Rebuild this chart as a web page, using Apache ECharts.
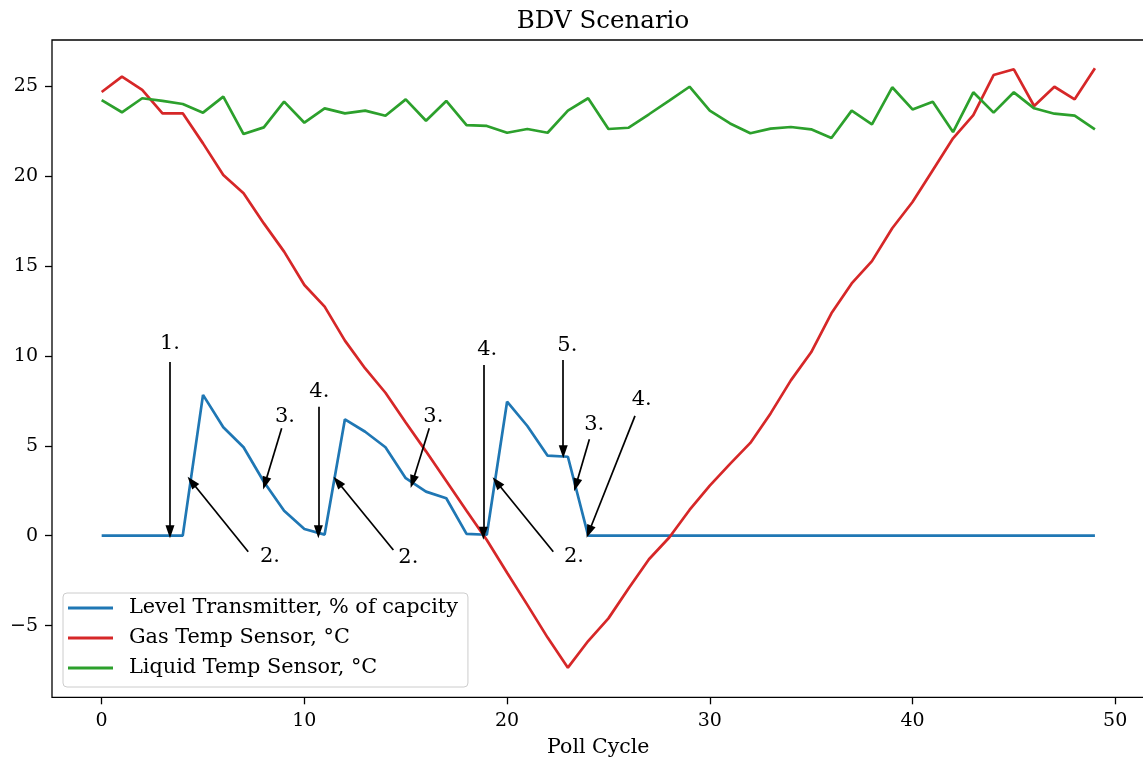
<!DOCTYPE html>
<html>
<head>
<meta charset="utf-8">
<script src="https://cdn.jsdelivr.net/npm/echarts@6/dist/echarts.min.js"></script>
<style>
  html, body { margin: 0; padding: 0; background: #fff; }
  #chart { width: 1143px; height: 760px; }
</style>
</head>
<body>
<div id="chart"></div>
<script>
// poll cycles
var pollCycle = [0,1,2,3,4,5,6,7,8,9,10,11,12,13,14,15,16,17,18,19,20,21,22,23,24,
  25,26,27,28,29,30,31,32,33,34,35,36,37,38,39,40,41,42,43,44,45,46,47,48,49];
// level transmitter, % of capacity
var levelValues = [0,0,0,0,0,7.83,6.03,4.92,3.0,1.39,0.37,0.06,6.47,5.78,4.92,3.2,2.45,2.08,0.1,0.05,
  7.45,6.1,4.45,4.39,0,0,0,0,0,0,0,0,0,0,0,0,0,0,0,0,0,0,0,0,0,0,0,0,0,0];
// gas temp
var gasValues = [24.68,25.53,24.79,23.49,23.49,21.82,20.06,19.04,17.37,15.8,
  13.94,12.74,10.85,9.3,7.95,6.3,4.69,3.04,1.39,-0.24,
  -2.06,-3.85,-5.67,-7.34,-5.86,-4.6,-2.93,-1.31,-0.1,1.43,
  2.78,3.99,5.16,6.8,8.64,10.2,12.37,14.03,15.27,17.1,
  18.56,20.33,22.1,23.39,25.62,25.94,23.9,24.97,24.27,26.0];
// liquid temp
var liquidValues = [24.23,23.55,24.33,24.18,24.01,23.53,24.42,22.34,22.71,24.14,
  22.97,23.77,23.49,23.64,23.36,24.27,23.08,24.18,22.84,22.79,
  22.41,22.62,22.41,23.64,24.33,22.62,22.69,23.44,24.2,24.97,
  23.64,22.93,22.38,22.64,22.73,22.6,22.12,23.64,22.88,24.94,
  23.71,24.14,22.45,24.66,23.53,24.66,23.77,23.47,23.36,22.6];

var xTicks = [0,10,20,30,40,50];
var yTicks = [-5,0,5,10,15,20,25];

// annotations: label, text centre, arrow tail, arrow head (data coords)
var annLabels = ['1.','2.','3.','4.','2.','3.','4.','2.','5.','3.','4.'];
var annText = [[3.37,10.7],[8.3,-1.17],[9.04,6.62],[10.74,8.01],[15.13,-1.2],[16.36,6.62],
  [19.02,10.37],[23.3,-1.17],[22.97,10.6],[24.3,6.16],[26.64,7.55]];
var annTail = [[3.37,9.66],[7.23,-0.89],[8.88,5.97],[10.69,7.17],[14.39,-0.8],[16.16,5.97],
  [18.83,9.49],[22.28,-0.89],[22.77,9.77],[24.06,5.36],[26.31,6.66]];
var annHead = [[3.37,0.22],[4.44,3.0],[8.06,2.91],[10.69,0.22],[11.64,3.0],[15.34,3.0],
  [18.83,0.13],[19.49,2.97],[22.77,4.67],[23.4,2.82],[24.04,0.22]];

var FONT = 'DejaVu Serif';

function pairs(vals) {
  return pollCycle.map(function (x, i) { return [x, vals[i]]; });
}
function minusSign(v) {
  return String(v).replace('-', '\u2212');
}

var myChart = echarts.init(document.getElementById('chart'));
var option = {
  animation: false,
  textStyle: { fontFamily: FONT },
  title: {
    text: 'BDV Scenario',
    left: 598,
    textAlign: 'center',
    top: 4,
    textStyle: { fontFamily: FONT, fontSize: 24.5, fontWeight: 'normal', color: '#000' }
  },
  grid: {
    left: 52, top: 40, width: 1092.6, height: 657.3,
    show: true, borderColor: '#000', borderWidth: 1.3,
    containLabel: false, outerBoundsMode: 'none'
  },
  legend: {
    data: ['Level Transmitter, % of capcity', 'Gas Temp Sensor, °C', 'Liquid Temp Sensor, °C'],
    orient: 'vertical',
    left: 63, top: 593,
    icon: 'rect',
    itemWidth: 45, itemHeight: 3, itemGap: 8,
    padding: [4, 10, 8, 5],
    backgroundColor: 'rgba(255,255,255,0.8)',
    borderColor: '#cccccc', borderWidth: 1, borderRadius: 4,
    textStyle: { fontFamily: FONT, fontSize: 20.8, color: '#000', lineHeight: 22, padding: [0, 0, 0, 11] }
  },
  xAxis: {
    type: 'value', min: -2.45, max: 51.45,
    name: 'Poll Cycle', nameLocation: 'middle', nameGap: 40,
    nameTextStyle: { fontFamily: FONT, fontSize: 20.5, color: '#000' },
    axisLine: { show: false, onZero: false },
    axisTick: { show: true, length: 7, customValues: xTicks, lineStyle: { color: '#000', width: 1.3 } },
    axisLabel: { customValues: xTicks, margin: 14, fontFamily: FONT, fontSize: 19, color: '#000' },
    splitLine: { show: false }
  },
  yAxis: {
    type: 'value', min: -8.99, max: 27.57,
    axisLine: { show: false, onZero: false },
    axisTick: { show: true, length: 7, customValues: yTicks, lineStyle: { color: '#000', width: 1.3 } },
    axisLabel: { customValues: yTicks, margin: 14, formatter: minusSign, fontFamily: FONT, fontSize: 19, color: '#000' },
    splitLine: { show: false }
  },
  series: [
    {
      name: 'Level Transmitter, % of capcity', type: 'line', data: pairs(levelValues),
      showSymbol: false, symbol: 'none', color: '#1f77b4',
      lineStyle: { width: 2.7, color: '#1f77b4' }, z: 2
    },
    {
      name: 'Gas Temp Sensor, °C', type: 'line', data: pairs(gasValues),
      showSymbol: false, symbol: 'none', color: '#d62728',
      lineStyle: { width: 2.7, color: '#d62728' }, z: 3
    },
    {
      name: 'Liquid Temp Sensor, °C', type: 'line', data: pairs(liquidValues),
      showSymbol: false, symbol: 'none', color: '#2ca02c',
      lineStyle: { width: 2.7, color: '#2ca02c' }, z: 4
    },
    {
      name: 'notes', type: 'scatter', symbolSize: 0, z: 5, silent: true,
      itemStyle: { opacity: 1 },
      data: annText.map(function (p, i) { return { value: p, name: annLabels[i] }; }),
      label: {
        show: true, position: 'inside', formatter: '{b}',
        fontFamily: FONT, fontSize: 21, color: '#000', opacity: 1, textBorderWidth: 0
      },
      markLine: {
        silent: true,
        symbol: ['none', 'triangle'],
        symbolSize: [9, 13],
        label: { show: false },
        lineStyle: { color: '#000', width: 1.7, type: 'solid' },
        data: annTail.map(function (t, i) { return [{ coord: t }, { coord: annHead[i] }]; })
      }
    }
  ]
};
myChart.setOption(option);
window.addEventListener('resize', function () { myChart.resize(); });
</script>
</body>
</html>
